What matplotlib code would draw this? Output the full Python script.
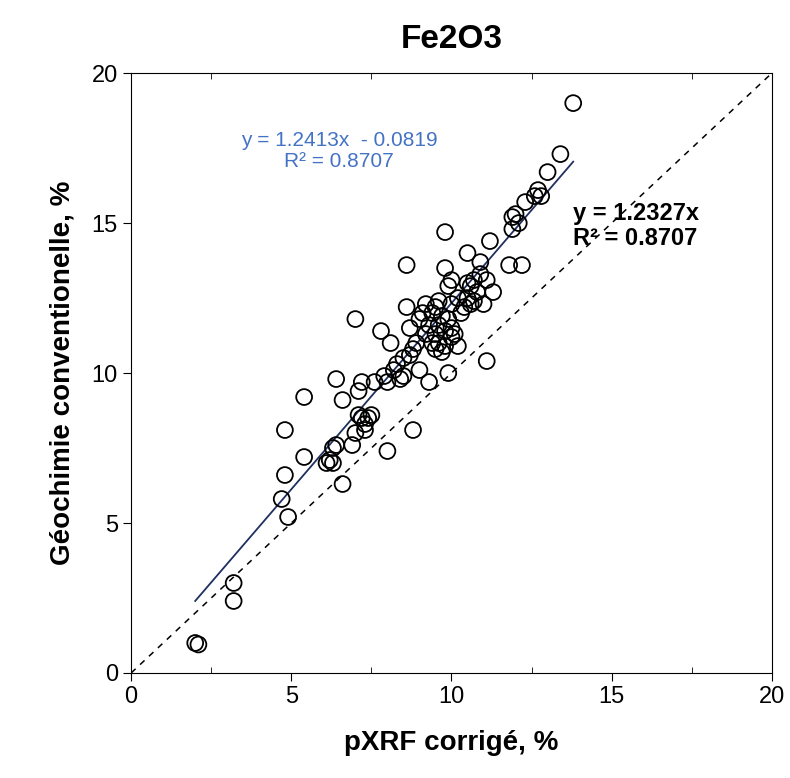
import matplotlib
matplotlib.use("Agg")
import matplotlib.pyplot as plt
import numpy as np

plt.rcParams['font.family'] = ['Liberation Sans', 'DejaVu Sans']

pxrf = [2.0, 2.1, 3.2, 3.2, 4.7, 4.9, 4.8, 4.8, 5.4, 5.4, 6.1, 6.2, 6.3, 6.3, 6.4, 6.4, 6.6, 6.6,
        6.9, 7.0, 7.0, 7.1, 7.2, 7.1, 7.2, 7.3, 7.3, 7.4, 7.5, 7.6, 7.8, 7.9, 8.0, 8.0, 8.1, 8.2,
        8.3, 8.4, 8.5, 8.5, 8.6, 8.6, 8.7, 8.7, 8.8, 8.8, 8.9, 9.0, 9.0, 9.1, 9.2, 9.2, 9.3, 9.3,
        9.4, 9.4, 9.5, 9.5, 9.5, 9.6, 9.6, 9.6, 9.7, 9.7, 9.8, 9.8, 9.8, 9.8, 9.9, 9.9, 9.9, 10.0,
        10.0, 10.0, 10.0, 10.1, 10.2, 10.2, 10.3, 10.4, 10.5, 10.5, 10.5, 10.6, 10.6, 10.7, 10.7,
        10.8, 10.9, 10.9, 11.0, 11.1, 11.1, 11.2, 11.3, 11.8, 11.9, 11.9, 12.0, 12.1, 12.2, 12.3,
        12.6, 12.7, 12.8, 13.0, 13.4, 13.8]
geochimie = [1.0, 0.95, 3.0, 2.4, 5.8, 5.2, 6.6, 8.1, 7.2, 9.2, 7.0, 7.1, 7.0, 7.5, 7.6, 9.8, 6.3, 9.1,
             7.6, 8.0, 11.8, 9.4, 9.7, 8.6, 8.5, 8.3, 8.1, 8.5, 8.6, 9.7, 11.4, 9.9, 7.4, 9.7, 11.0, 10.1,
             10.3, 9.8, 9.9, 10.5, 12.2, 13.6, 10.6, 11.5, 8.1, 10.8, 11.0, 10.1, 11.8, 12.0, 11.3, 12.3, 11.6, 9.7,
             11.0, 12.0, 10.8, 11.3, 12.2, 11.0, 11.6, 12.4, 10.7, 11.9, 10.9, 11.4, 13.5, 14.7, 10.0, 11.8, 12.9, 11.2,
             11.5, 12.3, 13.1, 11.3, 10.9, 12.5, 12.0, 12.2, 12.5, 13.0, 14.0, 12.3, 12.9, 12.4, 13.1,
             12.7, 13.3, 13.7, 12.3, 13.1, 10.4, 14.4, 12.7, 13.6, 14.8, 15.2, 15.3, 15.0, 13.6, 15.7,
             15.9, 16.1, 15.9, 16.7, 17.3, 19.0]

slope, intercept = 1.2413, -0.0819

fig, ax = plt.subplots(figsize=(7.9, 7.78), dpi=100)
fig.subplots_adjust(left=0.166, right=0.977, bottom=0.135, top=0.906)

ax.scatter(pxrf, geochimie, s=130, facecolors='none', edgecolors='black', linewidths=1.3, zorder=3)
xf = np.array([min(pxrf), max(pxrf)])
ax.plot(xf, slope * xf + intercept, color='#1f2f5f', lw=1.3, zorder=2)
ax.plot([0, 20], [0, 20], color='black', ls=(0, (4, 4)), lw=1.1)

ax.set_xlim(0, 20)
ax.set_ylim(0, 20)
ax.set_xticks([0, 5, 10, 15, 20])
ax.set_yticks([0, 5, 10, 15, 20])
ax.tick_params(labelsize=17, length=6, direction='out')
ax.set_xticks([2.5, 7.5, 12.5, 17.5], minor=True)
ax.tick_params(which='minor', direction='in', length=4, top=True)

ax.set_title('Fe2O3', fontsize=24, fontweight='bold', pad=18)
ax.set_xlabel('pXRF corrigé, %', fontsize=20, fontweight='bold', labelpad=16)
ax.set_ylabel('Géochimie conventionelle, %', fontsize=20, fontweight='bold', labelpad=12)

ax.text(6.5, 17.4, 'y = 1.2413x  - 0.0819\nR² = 0.8707', color='#4472c4', fontsize=15,
        ha='center', va='center', linespacing=1.1)
ax.text(13.8, 14.9, 'y = 1.2327x\nR² = 0.8707', color='black', fontsize=17, fontweight='bold',
        ha='left', va='center', linespacing=1.15)

fig.savefig('out.png', dpi=100)
